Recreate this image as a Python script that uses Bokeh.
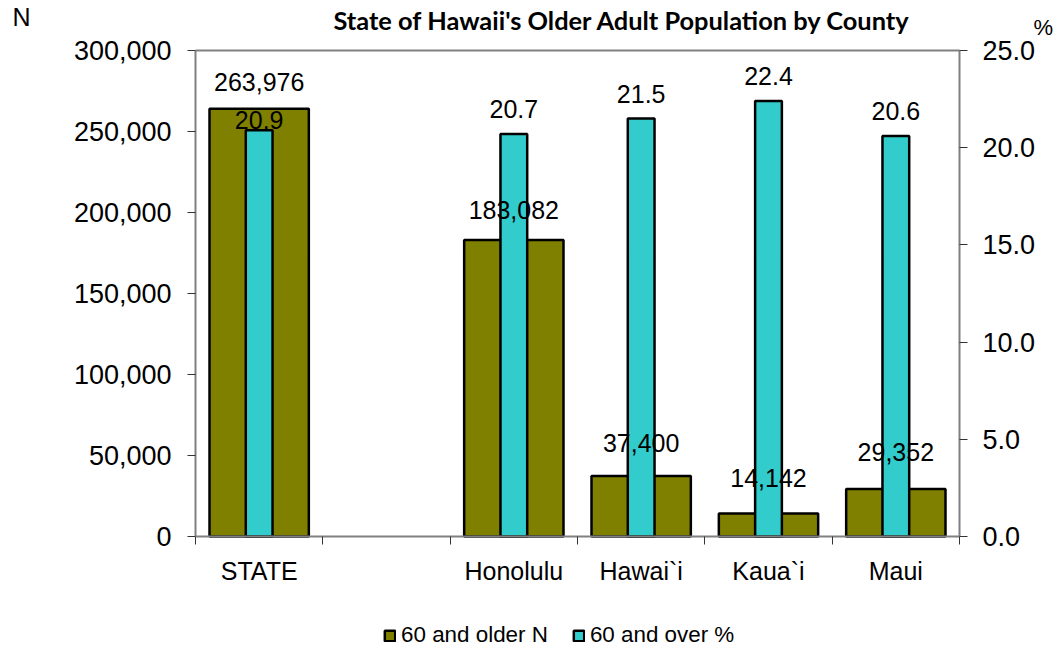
from bokeh.plotting import figure
from bokeh.models import (ColumnDataSource, LinearAxis, Range1d, FixedTicker,
                          NumeralTickFormatter, Label, Legend, LegendItem)
from bokeh.embed import file_html
from bokeh.resources import INLINE

# County groups (the blank slot separates the state total from the counties)
categories = ["STATE", "", "Honolulu", "Hawai`i", "Kaua`i", "Maui"]
older_n = [263976, None, 183082, 37400, 14142, 29352]
over_pct = [20.9, None, 20.7, 21.5, 22.4, 20.6]

n_ticks = [0, 50000, 100000, 150000, 200000, 250000, 300000]
pct_ticks = [0, 5, 10, 15, 20, 25]
N_MAX, PCT_MAX = 300000, 25

OLIVE = "#808000"
CYAN = "#33CCCC"
AXIS_GREY = "#808080"
FONT = "Liberation Sans"

# Page geometry: the canvas is the frame; the plotting box sits inside it
W, H = 1062, 655
BOX_L, BOX_R, BOX_T, BOX_B = 195, 959, 50, 536

n_slots = len(categories)
px_per_slot = (BOX_R - BOX_L) / n_slots
x_start = -BOX_L / px_per_slot
x_end = n_slots + (W - BOX_R) / px_per_slot
box_h = BOX_B - BOX_T
y_start = -(H - BOX_B) * N_MAX / box_h
y_end = N_MAX + BOX_T * N_MAX / box_h
p_start = -(H - BOX_B) * PCT_MAX / box_h
p_end = PCT_MAX + BOX_T * PCT_MAX / box_h

idx = [i for i, c in enumerate(categories) if c]
src = ColumnDataSource(dict(
    x=[i + 0.5 for i in idx],
    n=[older_n[i] for i in idx],
    pct=[over_pct[i] for i in idx],
    n_text=[f"{older_n[i]:,}" for i in idx],
    pct_text=[f"{over_pct[i]:.1f}" for i in idx],
    n_off=[-27, -30, -33, -36, -37],
    pct_off=[-10, -25, -25, -25, -25],
))

p = figure(width=W, height=H, output_backend="svg", toolbar_location=None,
           x_range=Range1d(x_start, x_end), y_range=Range1d(y_start, y_end),
           x_axis_type=None, y_axis_type=None, min_border=0,
           background_fill_color="white", border_fill_color="white",
           outline_line_color=None)
p.extra_y_ranges = {"pct": Range1d(p_start, p_end)}
p.xgrid.visible = False
p.ygrid.visible = False

# Bars
r_n = p.vbar(x="x", top="n", width=0.78, source=src, fill_color=OLIVE,
             line_color="black", line_width=2.5)
r_pct = p.vbar(x="x", top="pct", width=0.21, source=src, y_range_name="pct",
               fill_color=CYAN, line_color="black", line_width=2.5)

# Value labels
p.text(x="x", y="n", text="n_text", source=src, y_offset="n_off",
       text_align="center", text_baseline="alphabetic",
       text_font={"value": FONT}, text_font_size="25px", text_color="black")
p.text(x="x", y="pct", text="pct_text", source=src, y_offset="pct_off",
       y_range_name="pct", text_align="center", text_baseline="alphabetic",
       text_font={"value": FONT}, text_font_size="25px", text_color="black")


def style_axis(ax, size):
    ax.axis_line_color = AXIS_GREY
    ax.axis_line_width = 2
    ax.major_tick_in = 0
    ax.major_tick_out = 8
    ax.major_tick_line_color = "#333333"
    ax.minor_tick_line_color = None
    ax.major_label_text_font = FONT
    ax.major_label_text_font_size = size
    ax.major_label_text_color = "black"


# Category axis: labels centred in each slot, tick marks on slot boundaries
xa = LinearAxis(fixed_location=0, bounds=(0, n_slots),
                ticker=FixedTicker(ticks=[i + 0.5 for i in idx],
                                   minor_ticks=list(range(n_slots + 1))))
style_axis(xa, "25px")
xa.major_label_overrides = {i + 0.5: categories[i] for i in idx}
xa.major_tick_line_color = None
xa.minor_tick_in = 0
xa.minor_tick_out = 8
xa.minor_tick_line_color = "#333333"
xa.major_label_standoff = 12
p.add_layout(xa, "below")

# Top edge of the plotting box
ta = LinearAxis(fixed_location=N_MAX, bounds=(0, n_slots),
                ticker=FixedTicker(ticks=[]))
style_axis(ta, "1px")
p.add_layout(ta, "above")

# Left axis (counts)
ya = LinearAxis(fixed_location=0, bounds=(0, N_MAX),
                ticker=FixedTicker(ticks=n_ticks),
                formatter=NumeralTickFormatter(format="0,0"))
style_axis(ya, "27px")
ya.major_label_standoff = 16
p.add_layout(ya, "left")

# Right axis (percent)
ra = LinearAxis(fixed_location=n_slots, bounds=(0, PCT_MAX), y_range_name="pct",
                ticker=FixedTicker(ticks=pct_ticks),
                formatter=NumeralTickFormatter(format="0.0"))
style_axis(ra, "27px")
ra.major_label_standoff = 15
p.add_layout(ra, "right")

# Title and axis unit captions
p.add_layout(Label(x=333, y=H - 19, x_units="screen", y_units="screen",
                   text="State of Hawaii's Older Adult Population by County",
                   text_font="Lato", text_font_style="bold",
                   text_font_size="25.4px", text_color="black",
                   text_baseline="alphabetic"))
p.add_layout(Label(x=12, y=H - 16, x_units="screen", y_units="screen", text="N",
                   text_font=FONT, text_font_size="25px", text_color="black",
                   text_baseline="alphabetic"))
p.add_layout(Label(x=1033, y=H - 27, x_units="screen", y_units="screen", text="%",
                   text_font=FONT, text_font_size="22px", text_color="black",
                   text_baseline="alphabetic"))

legend = Legend(items=[LegendItem(label="60 and older N", renderers=[r_n]),
                       LegendItem(label="60 and over %", renderers=[r_pct])],
                orientation="horizontal", location=(383, 7),
                glyph_width=13, glyph_height=13, label_height=13,
                label_standoff=5, spacing=24, padding=0, margin=0,
                border_line_color=None, background_fill_alpha=0,
                label_text_font=FONT, label_text_font_size="22.4px",
                label_text_color="black")
p.add_layout(legend, "center")

open("out.html", "w").write(file_html(p, INLINE))
